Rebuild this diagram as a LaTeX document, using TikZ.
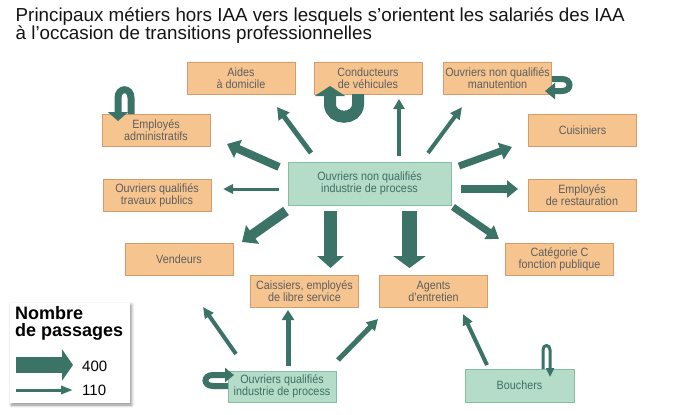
\documentclass[tikz,border=0pt]{standalone}
\usepackage{fontspec}
\setmainfont{Liberation Sans}
\newfontfamily\boxfont[FakeStretch=0.9]{Liberation Sans}
\usetikzlibrary{arrows.meta,shadows.blur}
\definecolor{arr}{HTML}{3B7367}
\definecolor{ofill}{HTML}{F6C48F}
\definecolor{oedge}{HTML}{D49C6C}
\definecolor{gfill}{HTML}{B4DCC8}
\definecolor{gedge}{HTML}{85BFA3}
\definecolor{otext}{HTML}{5E5E5E}
\definecolor{gtext}{HTML}{3F6F63}
\tikzset{
  obox/.style={draw=oedge, fill=ofill, line width=0.8pt, minimum width=108pt, minimum height=32pt, inner sep=0pt, align=center, text=otext, font=\boxfont\fontsize{12}{12}\selectfont},
  gbox/.style={draw=gedge, fill=gfill, line width=0.8pt, minimum width=108pt, minimum height=32pt, inner sep=0pt, align=center, text=gtext, font=\boxfont\fontsize{12}{12}\selectfont},
  flow/.style n args={3}{draw=arr, line width=#1pt, -{Triangle[width=#2pt,length=#3pt]}},
  titletext/.style={anchor=base west, inner sep=0pt, font=\fontsize{18.8}{15}\selectfont, text=black!92},
}
\begin{document}
\begin{tikzpicture}[x=1pt,y=-1pt]
\useasboundingbox (0,0) rectangle (699,415);
% title
\node[titletext, text depth=0pt] (title1) at (15.5,21.5) {Principaux métiers hors IAA vers lesquels s’orientent les salariés des IAA};
\node[titletext, text height=12pt] (title2) at (15.5,39) {à l’occasion de transitions professionnelles};
% boxes
\node[obox] (aides) at (241,78) {Aides\\à domicile};
\node[obox] (cond) at (368,78) {Conducteurs\\de véhicules};
\node[obox] (manut) at (497.5,78) {Ouvriers non qualifiés\\manutention};
\node[obox] (emp) at (156,130.5) {Employés\\administratifs};
\node[obox] (cuis) at (582.5,130.5) {Cuisiniers};
\node[obox] (oqtp) at (157,195.5) {Ouvriers qualifiés\\travaux publics};
\node[obox] (resto) at (582,195.5) {Employés\\de restauration};
\node[gbox, minimum width=163pt, minimum height=43pt] (ctr) at (369.5,183.5) {Ouvriers non qualifiés\\industrie de process};
\node[obox] (vend) at (179,259.5) {Vendeurs};
\node[obox] (caiss) at (304.5,291) {Caissiers, employés\\de libre service};
\node[obox] (agents) at (433.5,291) {Agents\\d’entretien};
\node[obox] (catc) at (559.5,259) {Catégorie C\\fonction publique};
\node[gbox, minimum height=31pt] (oqip) at (282,386.5) {Ouvriers qualifiés\\industrie de process};
\node[gbox, minimum width=109pt, minimum height=33pt] (bouch) at (519.5,385.5) {Bouchers};
% arrow end points
\coordinate (c1) at (311,153); \coordinate (t1) at (277,107);
\coordinate (c2) at (279,167); \coordinate (t2) at (227,144);
\coordinate (c3) at (279,189); \coordinate (t3) at (223,189);
\coordinate (c4) at (286,211); \coordinate (t4) at (242,242);
\coordinate (c5) at (330.5,211); \coordinate (t5) at (330.5,268);
\coordinate (c6) at (409.5,211); \coordinate (t6) at (409.5,268);
\coordinate (c7) at (453,207); \coordinate (t7) at (499,239);
\coordinate (c8) at (461,189); \coordinate (t8) at (518,189);
\coordinate (c9) at (459,166); \coordinate (t9) at (512,147);
\coordinate (c10) at (428,153); \coordinate (t10) at (462,107);
\coordinate (c11) at (399,156); \coordinate (t11) at (399,99);
\coordinate (q1) at (236,354); \coordinate (u1) at (203,307);
\coordinate (q2) at (288,366); \coordinate (u2) at (288,310);
\coordinate (q3) at (338,360); \coordinate (u3) at (378,319);
\coordinate (b1) at (487,365); \coordinate (v1) at (463,314);
% arrows from centre
\draw[flow={5}{13}{12}] (c1) -- (t1);
\draw[flow={8}{19}{12}] (c2) -- (t2);
\draw[flow={3}{9}{10}] (c3) -- (t3);
\draw[flow={10}{22}{13}] (c4) -- (t4);
\draw[flow={13}{26}{12}] (c5) -- (t5);
\draw[flow={15}{32}{12}] (c6) -- (t6);
\draw[flow={7}{16}{12}] (c7) -- (t7);
\draw[flow={8}{17}{11}] (c8) -- (t8);
\draw[flow={7}{17}{12}] (c9) -- (t9);
\draw[flow={4}{11}{12}] (c10) -- (t10);
\draw[flow={4}{11}{10}] (c11) -- (t11);
% arrows from other sources
\draw[flow={4}{10}{11}] (q1) -- (u1);
\draw[flow={5}{12}{10}] (q2) -- (u2);
\draw[flow={5}{12}{11}] (q3) -- (u3);
\draw[flow={4}{10}{11}] (b1) -- (v1);
% self loops
\coordinate (l1a) at (358,94); \coordinate (l1b) at (330,86);
\draw[flow={12}{30}{10}] (l1a) -- (358,104) .. controls (358,121) and (330,121) .. (330,104) -- (l1b);
\coordinate (l2a) at (131,114); \coordinate (l2b) at (118,121);
\draw[flow={7}{20}{9}] (l2a) -- (131,98) .. controls (131,87) and (118,87) .. (118,98) -- (l2b);
\coordinate (l3a) at (552,79); \coordinate (l3b) at (545,91);
\draw[flow={6}{16}{10}] (l3a) -- (562,79) .. controls (572,79) and (572,91) .. (562,91) -- (l3b);
\coordinate (l4a) at (228,386); \coordinate (l4b) at (234,375);
\draw[flow={6}{14}{9}] (l4a) -- (213,386) .. controls (203,386) and (203,375) .. (213,375) -- (l4b);
\coordinate (l5a) at (543,369); \coordinate (l5b) at (550,377);
\draw[flow={3}{8}{9}] (l5a) -- (543,350) .. controls (543,344) and (550,344) .. (550,350) -- (l5b);
% legend
\node[draw=none, fill=white, minimum width=120pt, minimum height=100pt, inner sep=0pt,
  blur shadow={shadow xshift=1.5pt, shadow yshift=-2pt, shadow blur radius=3pt, shadow opacity=45}] (leg) at (70,353) {};
\node[anchor=north west, align=left, inner sep=0pt, font=\bfseries\fontsize{18}{17}\selectfont] (legt) at (15,306) {Nombre\\de passages};
\coordinate (la) at (16,365); \coordinate (lb) at (73,365);
\coordinate (lc) at (16,390); \coordinate (ld) at (73,390);
\draw[flow={16}{31}{11}] (la) -- (lb);
\draw[flow={3}{8}{12}] (lc) -- (ld);
\node[anchor=west, inner sep=0pt, font=\fontsize{15}{15}\selectfont] (n400) at (82,366) {400};
\node[anchor=west, inner sep=0pt, font=\fontsize{15}{15}\selectfont] (n110) at (82,390) {110};
\end{tikzpicture}
\end{document}
